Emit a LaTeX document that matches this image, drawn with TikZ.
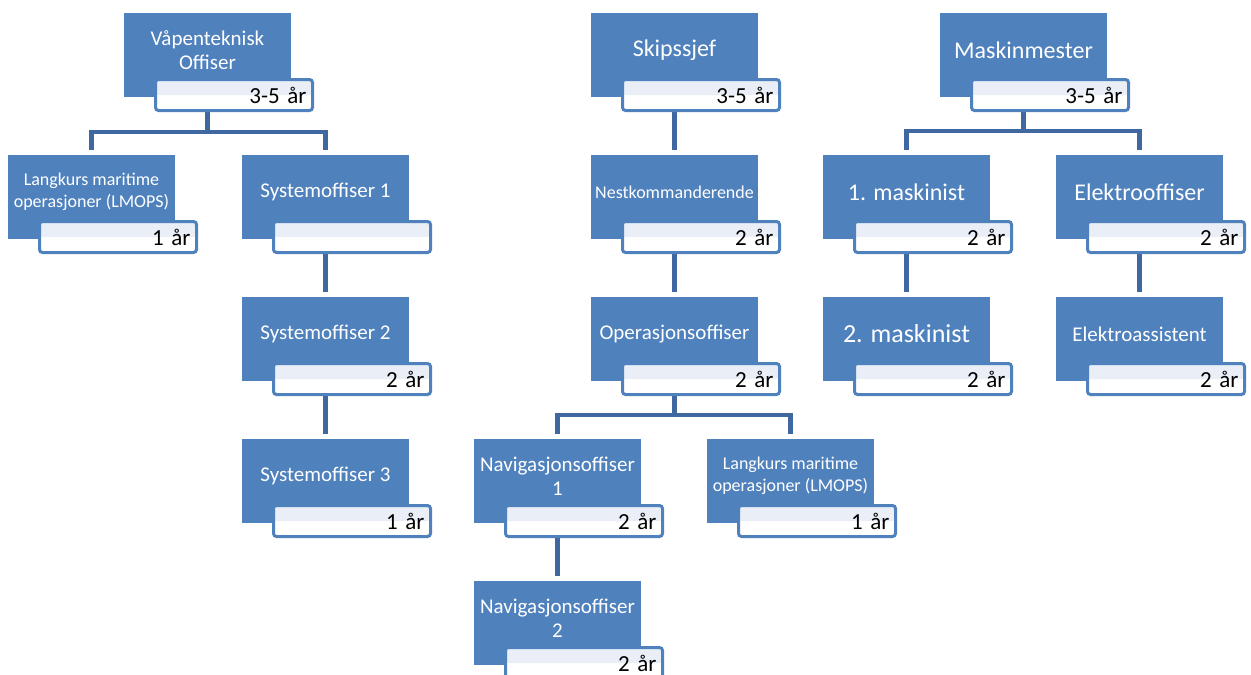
\documentclass[tikz,border=0pt]{standalone}
\usepackage{fontspec}
\setmainfont{Carlito}
\usepackage{tikz}
\usetikzlibrary{calc,backgrounds}
\usepackage{xcolor}
\definecolor{smblue}{RGB}{79,129,189}
\definecolor{smline}{RGB}{64,104,160}
\definecolor{yrtop}{RGB}{233,238,247}
\tikzstyle{posbox} = [rectangle, fill=smblue, minimum width=167pt, minimum height=84pt, inner sep=0pt]
\tikzstyle{postext} = [text=white, align=center, yshift=5pt]
\tikzstyle{yearbox} = [rectangle, draw=smblue, line width=3pt, rounded corners=3pt, fill=white,
  minimum height=31pt, text width=145pt, inner xsep=6pt, inner ysep=0pt, align=right,
  font=\fontsize{23}{25}\selectfont,
  path picture={\fill[yrtop] (path picture bounding box.north west) rectangle (path picture bounding box.east);}]
\tikzstyle{conn} = [line width=4.5pt, color=smline, shorten >=5pt]
\tikzset{
  txtS/.style={font=\fontsize{18}{22}\selectfont},
  txtM/.style={font=\fontsize{21}{24}\selectfont},
  txtL/.style={font=\fontsize{24}{27}\selectfont},
  txtXL/.style={font=\fontsize{26}{29}\selectfont}
}
% position box with its year tab: name, x, y, text style, title, years
\newcommand{\orgunit}[6]{%
  \node[posbox, label={[postext,#4]center:{#5}}] (#1) at (#2,#3) {};
  \node[yearbox] (#1yr) at ($(#1.center)+(26.5,40)$) {#6};
}

\begin{document}
\begin{tikzpicture}[x=1pt, y=-1pt]
\useasboundingbox (0,0) rectangle (1251,675);

% Top row
\orgunit{vap}{207.5}{55}{txtM}{Våpenteknisk\\Offiser}{3-5 år}
\orgunit{skip}{674.5}{55}{txtL}{Skipssjef}{3-5 år}
\orgunit{mask}{1023.5}{55}{txtL}{Maskinmester}{3-5 år}

% Second row
\orgunit{lmops}{91.5}{197}{txtS}{Langkurs maritime\\operasjoner (LMOPS)}{1 år}
\orgunit{sysa}{325.5}{197}{txtM}{Systemoffiser 1}{}
\orgunit{nest}{674.5}{197}{txtS}{Nestkommanderende}{2 år}
\orgunit{maska}{906.5}{197}{txtL}{1. maskinist}{2 år}
\orgunit{elek}{1139.5}{197}{txtL}{Elektrooffiser}{2 år}

% Third row
\orgunit{sysb}{325.5}{339}{txtM}{Systemoffiser 2}{2 år}
\orgunit{ops}{674.5}{339}{txtM}{Operasjonsoffiser}{2 år}
\orgunit{maskb}{906.5}{339}{txtXL}{2. maskinist}{2 år}
\orgunit{elass}{1139.5}{339}{txtM}{Elektroassistent}{2 år}

% Fourth row
\orgunit{sysc}{325.5}{481}{txtM}{Systemoffiser 3}{1 år}
\orgunit{nava}{557.5}{481}{txtM}{Navigasjonsoffiser\\1}{2 år}
\orgunit{lmopsb}{790.5}{481}{txtS}{Langkurs maritime\\operasjoner (LMOPS)}{1 år}

% Fifth row
\orgunit{navb}{557.5}{623}{txtM}{Navigasjonsoffiser\\2}{2 år}

% Connectors
\begin{pgfonlayer}{background}
\draw[conn] (vap.south) -- ++(0,35) -| (lmops.north);
\draw[conn] (vap.south) -- ++(0,35) -| (sysa.north);
\draw[conn] (sysa.south) -- (sysb.north);
\draw[conn] (sysb.south) -- (sysc.north);
\draw[conn] (skip.south) -- (nest.north);
\draw[conn] (nest.south) -- (ops.north);
\draw[conn] (ops.south) -- ++(0,34) -| (nava.north);
\draw[conn] (ops.south) -- ++(0,34) -| (lmopsb.north);
\draw[conn] (nava.south) -- (navb.north);
\draw[conn] (mask.south) -- ++(0,34) -| (maska.north);
\draw[conn] (mask.south) -- ++(0,34) -| (elek.north);
\draw[conn] (maska.south) -- (maskb.north);
\draw[conn] (elek.south) -- (elass.north);
\end{pgfonlayer}
\end{tikzpicture}
\end{document}
